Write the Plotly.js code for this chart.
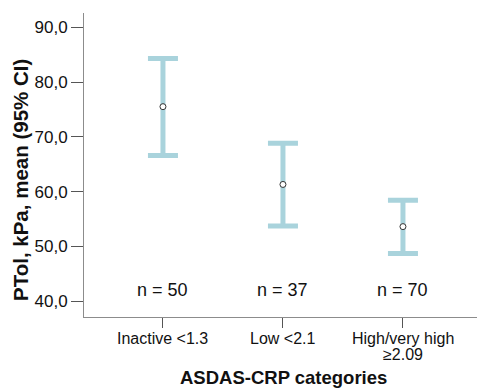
<!DOCTYPE html>
<html>
<head>
<meta charset="utf-8">
<script src="https://cdn.plot.ly/plotly-3.0.1.min.js"></script>
<style>html,body{margin:0;padding:0;background:#fff;}#chart{width:477px;height:389px;}</style>
</head>
<body>
<div id="chart"></div>
<script>
var categories = ["Inactive <1.3", "Low <2.1", "High/very high<br>≥2.09"];
var means = [75.5, 61.3, 53.6];
var ciUpper = [84.3, 68.8, 58.4];
var ciLower = [66.6, 53.7, 48.7];
var nLabels = ["n = 50", "n = 37", "n = 70"];
var yTickVals = [40, 50, 60, 70, 80, 90];
var yTickText = ["40,0", "50,0", "60,0", "70,0", "80,0", "90,0"];
var xTitle = "ASDAS-CRP categories";
var yTitle = "PTol, kPa, mean (95% CI)";

var xPos = categories.map(function (c, i) { return i; });
var errPlus = means.map(function (m, i) { return ciUpper[i] - m; });
var errMinus = means.map(function (m, i) { return m - ciLower[i]; });

var FONT = "Liberation Sans, Arial, sans-serif";

// plot area in pixels: x 84..477, y 13..317
var PL = 84, PW = 393, PT = 13, PH = 304;
function px2paperX(px) { return (px - PL) / PW; }
function px2paperY(py) { return (PT + PH - py) / PH; }

var trace = {
  type: "scatter",
  mode: "markers",
  x: xPos,
  y: means,
  marker: { symbol: "circle", size: 6, color: "#ffffff", line: { color: "#333333", width: 1 } },
  error_y: {
    type: "data", symmetric: false, array: errPlus, arrayminus: errMinus,
    color: "#a9d3dc", thickness: 5, width: 15
  },
  hoverinfo: "none",
  showlegend: false
};

var annotations = [];
nLabels.forEach(function (t, i) {
  annotations.push({ x: i, y: 42.0, xref: "x", yref: "y", text: t, showarrow: false,
    font: { family: FONT, size: 18, color: "#111" }, xanchor: "center", yanchor: "middle" });
});
var lineY = [338, 354];
categories.forEach(function (c, i) {
  c.split("<br>").forEach(function (line, j) {
    annotations.push({ x: i, y: px2paperY(lineY[j]), xref: "x", yref: "paper", text: line,
      showarrow: false, font: { family: FONT, size: 16, color: "#111" },
      xanchor: "center", yanchor: "middle" });
  });
});
annotations.push({ x: px2paperX(283), y: px2paperY(377), xref: "paper", yref: "paper",
  text: xTitle, showarrow: false, xanchor: "center", yanchor: "middle",
  font: { family: FONT, size: 18.5, color: "#111", weight: "bold" } });
annotations.push({ x: px2paperX(20), y: px2paperY(180), xref: "paper", yref: "paper",
  text: yTitle, showarrow: false, xanchor: "center", yanchor: "middle", textangle: -90,
  font: { family: FONT, size: 20.5, color: "#111", weight: "bold" } });

var layout = {
  width: 477, height: 389,
  margin: { l: PL, r: 477 - PL - PW, t: PT, b: 389 - PT - PH },
  paper_bgcolor: "#ffffff", plot_bgcolor: "#ffffff",
  font: { family: FONT, color: "#111" },
  xaxis: {
    range: [-0.658, 2.617], tickvals: xPos, showticklabels: false,
    showgrid: false, zeroline: false, showline: true, linecolor: "#8c8c8c", linewidth: 1,
    ticks: "outside", ticklen: 10, tickcolor: "#555", tickwidth: 1
  },
  yaxis: {
    range: [37.1, 92.6], tickvals: yTickVals, ticktext: yTickText,
    showgrid: false, zeroline: false, showline: true, linecolor: "#8c8c8c", linewidth: 1,
    ticks: "outside", ticklen: 12, tickcolor: "#555", tickwidth: 1,
    tickfont: { family: FONT, size: 17, color: "#111" }
  },
  annotations: annotations
};

Plotly.newPlot("chart", [trace], layout, { displayModeBar: false, staticPlot: true });
</script>
</body>
</html>
